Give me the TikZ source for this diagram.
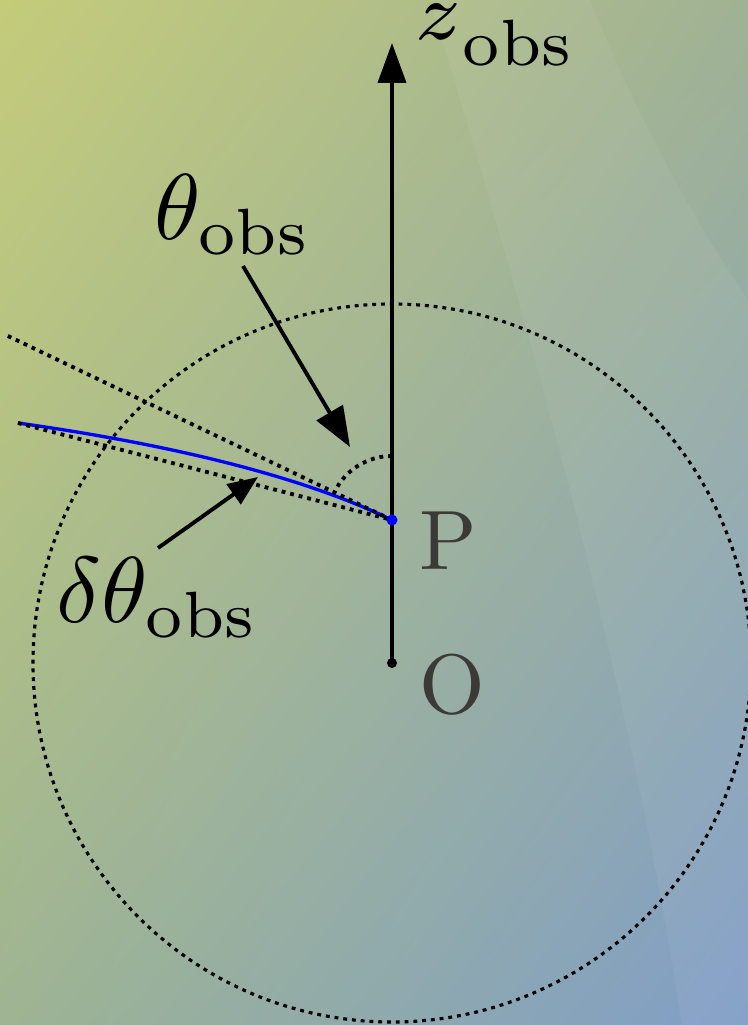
\documentclass[tikz,border=0pt]{standalone}
\usepackage{amsmath}
\usepackage{graphicx}
\usetikzlibrary{arrows.meta,calc,shadings}
\definecolor{bgTL}{RGB}{196,204,122}
\definecolor{bgTR}{RGB}{160,178,148}
\definecolor{bgBL}{RGB}{158,180,146}
\definecolor{bgBR}{RGB}{128,158,200}
\definecolor{ptgray}{RGB}{60,58,54}

\begin{document}
\begin{tikzpicture}[
  guide/.style={line width=1.1pt, dash pattern=on 1.1pt off 1.4pt},
  pointer/.style={line width=1.1pt, -{Triangle[length=4mm,width=3mm]}},
  biglabel/.style={inner sep=0pt, scale=2.66, transform shape},
  ptlabel/.style={inner sep=0pt, text=ptgray, scale=2.4, transform shape}
]
\shade[upper left=bgTL, upper right=bgTR, lower left=bgBL, lower right=bgBR]
  (-3.92,-3.62) rectangle (3.56,6.63);
\useasboundingbox (-3.92,-3.62) rectangle (3.56,6.63);
\fill[white, opacity=0.05] (0.38,6.63) .. controls (1.8,2) and (2.5,-1) .. (2.9,-3.62)
  -- (3.56,-3.62) -- (3.56,3.63) .. controls (2.9,4.6) and (2.4,5.6) .. (1.98,6.63) -- cycle;

\coordinate (O) at (0,0);
\coordinate (P) at (0,1.43);
\coordinate (ztip) at (0,6.20);
\coordinate (rayend) at (-3.74,2.40);
\coordinate (tanend) at ($(P)+(154.4:4.26)$);
\coordinate (thfrom) at (-1.49,3.97);
\coordinate (thto) at (-0.42,2.16);
\coordinate (dthfrom) at (-2.34,1.15);
\coordinate (dthto) at (-1.34,1.86);

\draw[guide, line width=0.9pt] (O) circle[radius=3.59];
\draw[line width=1.1pt, -{Triangle[length=4mm,width=2.8mm]}] (O) -- (ztip);
\node[biglabel, anchor=base west] (zlab) at (0.21,6.23)
  {\scalebox{1.25}{$\scriptstyle z$}\raisebox{-2.7pt}{$\scriptstyle\mathrm{obs}$}};

\draw[blue, line width=0.95pt] (rayend) .. controls (-2.12,2.17) and (-0.87,1.85) .. (P);
\draw[guide] (tanend) -- (P);
\draw[guide] (rayend) -- (P);
\draw[guide] (P) ++(0,0.64) arc[start angle=90, end angle=154.4, radius=0.64];

\node[biglabel, anchor=base west] (thlab) at (-2.39,4.23) {$\theta_{\mathrm{obs}}$};
\node[biglabel, anchor=base west] (dthlab) at (-3.37,0.40) {$\delta\theta_{\mathrm{obs}}$};
\draw[pointer] (thfrom) -- (thto);
\draw[line width=1.1pt, -{Triangle[length=3mm,width=2.4mm]}] (dthfrom) -- (dthto);

\fill (O) circle[radius=0.05];
\fill[blue] (P) circle[radius=0.055];
\node[ptlabel, anchor=base west] (plab) at (0.26,0.93) {P};
\node[ptlabel, anchor=base west] (olab) at (0.26,-0.51) {O};
\end{tikzpicture}
\end{document}
